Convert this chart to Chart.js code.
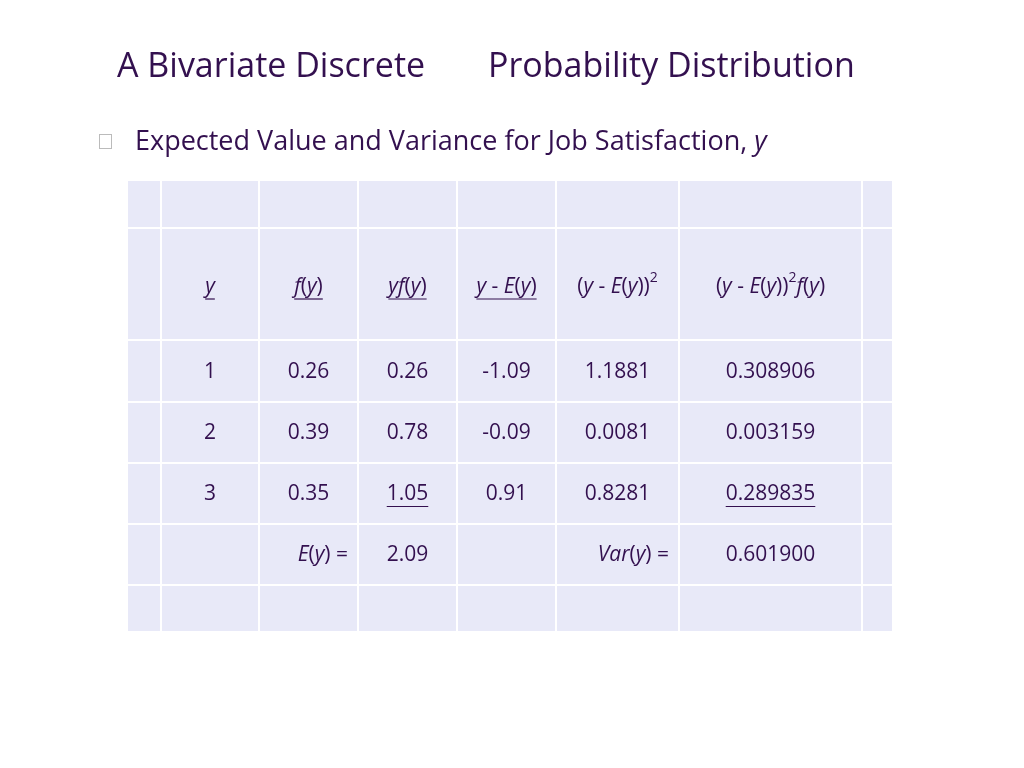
<!DOCTYPE html>
<html><head><meta charset="utf-8">
<script src="https://cdn.jsdelivr.net/npm/chart.js@4"></script>
<style>
body{margin:0;width:1024px;height:768px;background:#fff;font-family:Calibri,Carlito,"Open Sans",sans-serif;overflow:hidden}
#c{position:absolute;left:0;top:0}
.t{position:absolute;color:#33104f;white-space:nowrap;font-family:"Open Sans",sans-serif}
</style></head><body>
<canvas id="c" width="1024" height="768"></canvas>
<div class="t" style="left:117px;top:41px;font-size:34px">A Bivariate Discrete</div>
<div class="t" style="left:488px;top:41px;font-size:34px">Probability Distribution</div>
<div class="t" style="left:99px;top:134px;width:11px;height:13px;border:1px solid #bbb"></div>
<div class="t" style="left:135px;top:121px;font-size:27px">Expected Value and Variance for Job Satisfaction, <i>y</i></div>
<script>
const colEdges=[0,34,132,231,330,429,552,735,766];
const rowEdges=[0,48,160,222,283,344,405,452];
const yVals=["1","2","3"];
const fy=["0.26","0.39","0.35"];
const yfy=["0.26","0.78","1.05"];
const dev=["-1.09","-0.09","0.91"];
const dev2=["1.1881","0.0081","0.8281"];
const dev2f=["0.308906","0.003159","0.289835"];
const eyValue="2.09";
const varValue="0.601900";
const headers=[
 {col:1,seg:[["y",1]],u:1},
 {col:2,seg:[["f",1],["(",0],["y",1],[")",0]],u:1},
 {col:3,seg:[["yf",1],["(",0],["y",1],[")",0]],u:1},
 {col:4,seg:[["y",1],[" - ",0],["E",1],["(",0],["y",1],[")",0]],u:1},
 {col:5,seg:[["(",0],["y",1],[" - ",0],["E",1],["(",0],["y",1],["))",0],["2",0,1]],u:0},
 {col:6,seg:[["(",0],["y",1],[" - ",0],["E",1],["(",0],["y",1],["))",0],["2",0,1],["f",1],["(",0],["y",1],[")",0]],u:0}
];
const FONT='"Open Sans",sans-serif', COL='#33104f';
const tablePlugin={id:'tbl',afterDraw(ch){
 const c=ch.ctx,x=ch.scales.x,y=ch.scales.y;
 const X=v=>x.getPixelForValue(v),Y=v=>y.getPixelForValue(v);
 c.save();
 c.fillStyle='#e8e9f8';
 c.fillRect(X(0),Y(0),X(766)-X(0),Y(452)-Y(0));
 c.strokeStyle='#ffffff';c.lineWidth=2;
 colEdges.forEach(e=>{c.beginPath();c.moveTo(X(e),Y(0));c.lineTo(X(e),Y(452));c.stroke();});
 rowEdges.forEach(e=>{c.beginPath();c.moveTo(X(0),Y(e));c.lineTo(X(766),Y(e));c.stroke();});
 const cx=i=>(X(colEdges[i])+X(colEdges[i+1]))/2, ry=i=>(Y(rowEdges[i])+Y(rowEdges[i+1]))/2;
 c.fillStyle=COL;c.strokeStyle=COL;c.lineWidth=1.2;c.textBaseline='middle';
 function segs(list,xc,yc,u,align){
  let w=0;const ms=list.map(s=>{c.font=(s[1]?'italic ':'')+(s[2]?'14px ':'21px ')+FONT;const m=c.measureText(s[0]).width;w+=m;return m;});
  let x0=align==='right'?xc-w:xc-w/2;const st=x0;
  list.forEach((s,i)=>{c.font=(s[1]?'italic ':'')+(s[2]?'14px ':'21px ')+FONT;c.textAlign='left';c.fillText(s[0],x0,s[2]?yc-9:yc);x0+=ms[i];});
  if(u){c.beginPath();c.moveTo(st,yc+12);c.lineTo(st+w,yc+12);c.stroke();}
 }
 headers.forEach(h=>segs(h.seg,cx(h.col),ry(1)+3,h.u));
 const cols=[yVals,fy,yfy,dev,dev2,dev2f];
 for(let r=0;r<3;r++){cols.forEach((a,k)=>{const u=(r===2&&(k===2||k===5));segs([[a[r],0]],cx(k+1),ry(2+r)+1,u);});}
 segs([["E",1],["(",0],["y",1],[") =",0]],X(221),ry(5)+1,0,'right');
 segs([[eyValue,0]],cx(3),ry(5)+1,0);
 segs([["Var",1],["(",0],["y",1],[") =",0]],X(542),ry(5)+1,0,'right');
 segs([[varValue,0]],cx(6),ry(5)+1,0);
 c.restore();
}};
new Chart(document.getElementById('c'),{type:'scatter',data:{datasets:[{data:[]}]},
 options:{responsive:false,animation:false,events:[],
  layout:{padding:{left:127,top:180,right:131,bottom:136}},
  plugins:{legend:{display:false},tooltip:{enabled:false}},
  scales:{x:{type:'linear',min:0,max:766,display:false},y:{type:'linear',min:0,max:452,reverse:true,display:false}}},
 plugins:[tablePlugin]});
</script></body></html>
